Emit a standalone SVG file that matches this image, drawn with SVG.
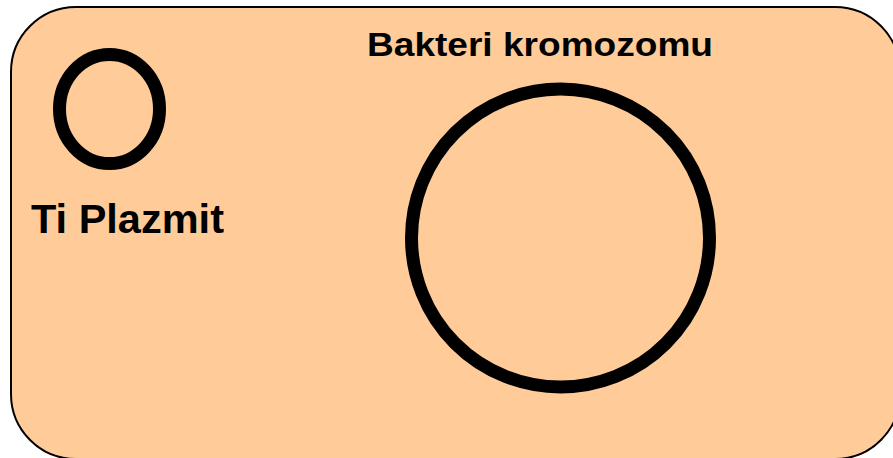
<svg xmlns="http://www.w3.org/2000/svg" width="893" height="458" viewBox="0 0 893 458">
<style>
.lbl{font-family:"Liberation Sans",Arial,sans-serif;font-weight:bold;fill:#000}
.ring{fill:none;stroke:#000;stroke-width:13}
</style>
<rect width="893" height="458" fill="#fff"/>
<g id="cell">
<rect x="11" y="7" width="889" height="452" rx="65" ry="65" fill="#FFCC99" stroke="#000" stroke-width="2"/>
</g>
<g id="plasmid">
<ellipse class="ring" cx="109.5" cy="109" rx="50" ry="54.5"/>
<text class="lbl" x="31" y="233" font-size="41.5">Ti Plazmit</text>
</g>
<g id="chromosome">
<circle class="ring" cx="560.5" cy="238" r="149"/>
<text class="lbl" x="367" y="56" font-size="34" textLength="346" lengthAdjust="spacingAndGlyphs">Bakteri kromozomu</text>
</g>
<g id="connectors"/>
</svg>
